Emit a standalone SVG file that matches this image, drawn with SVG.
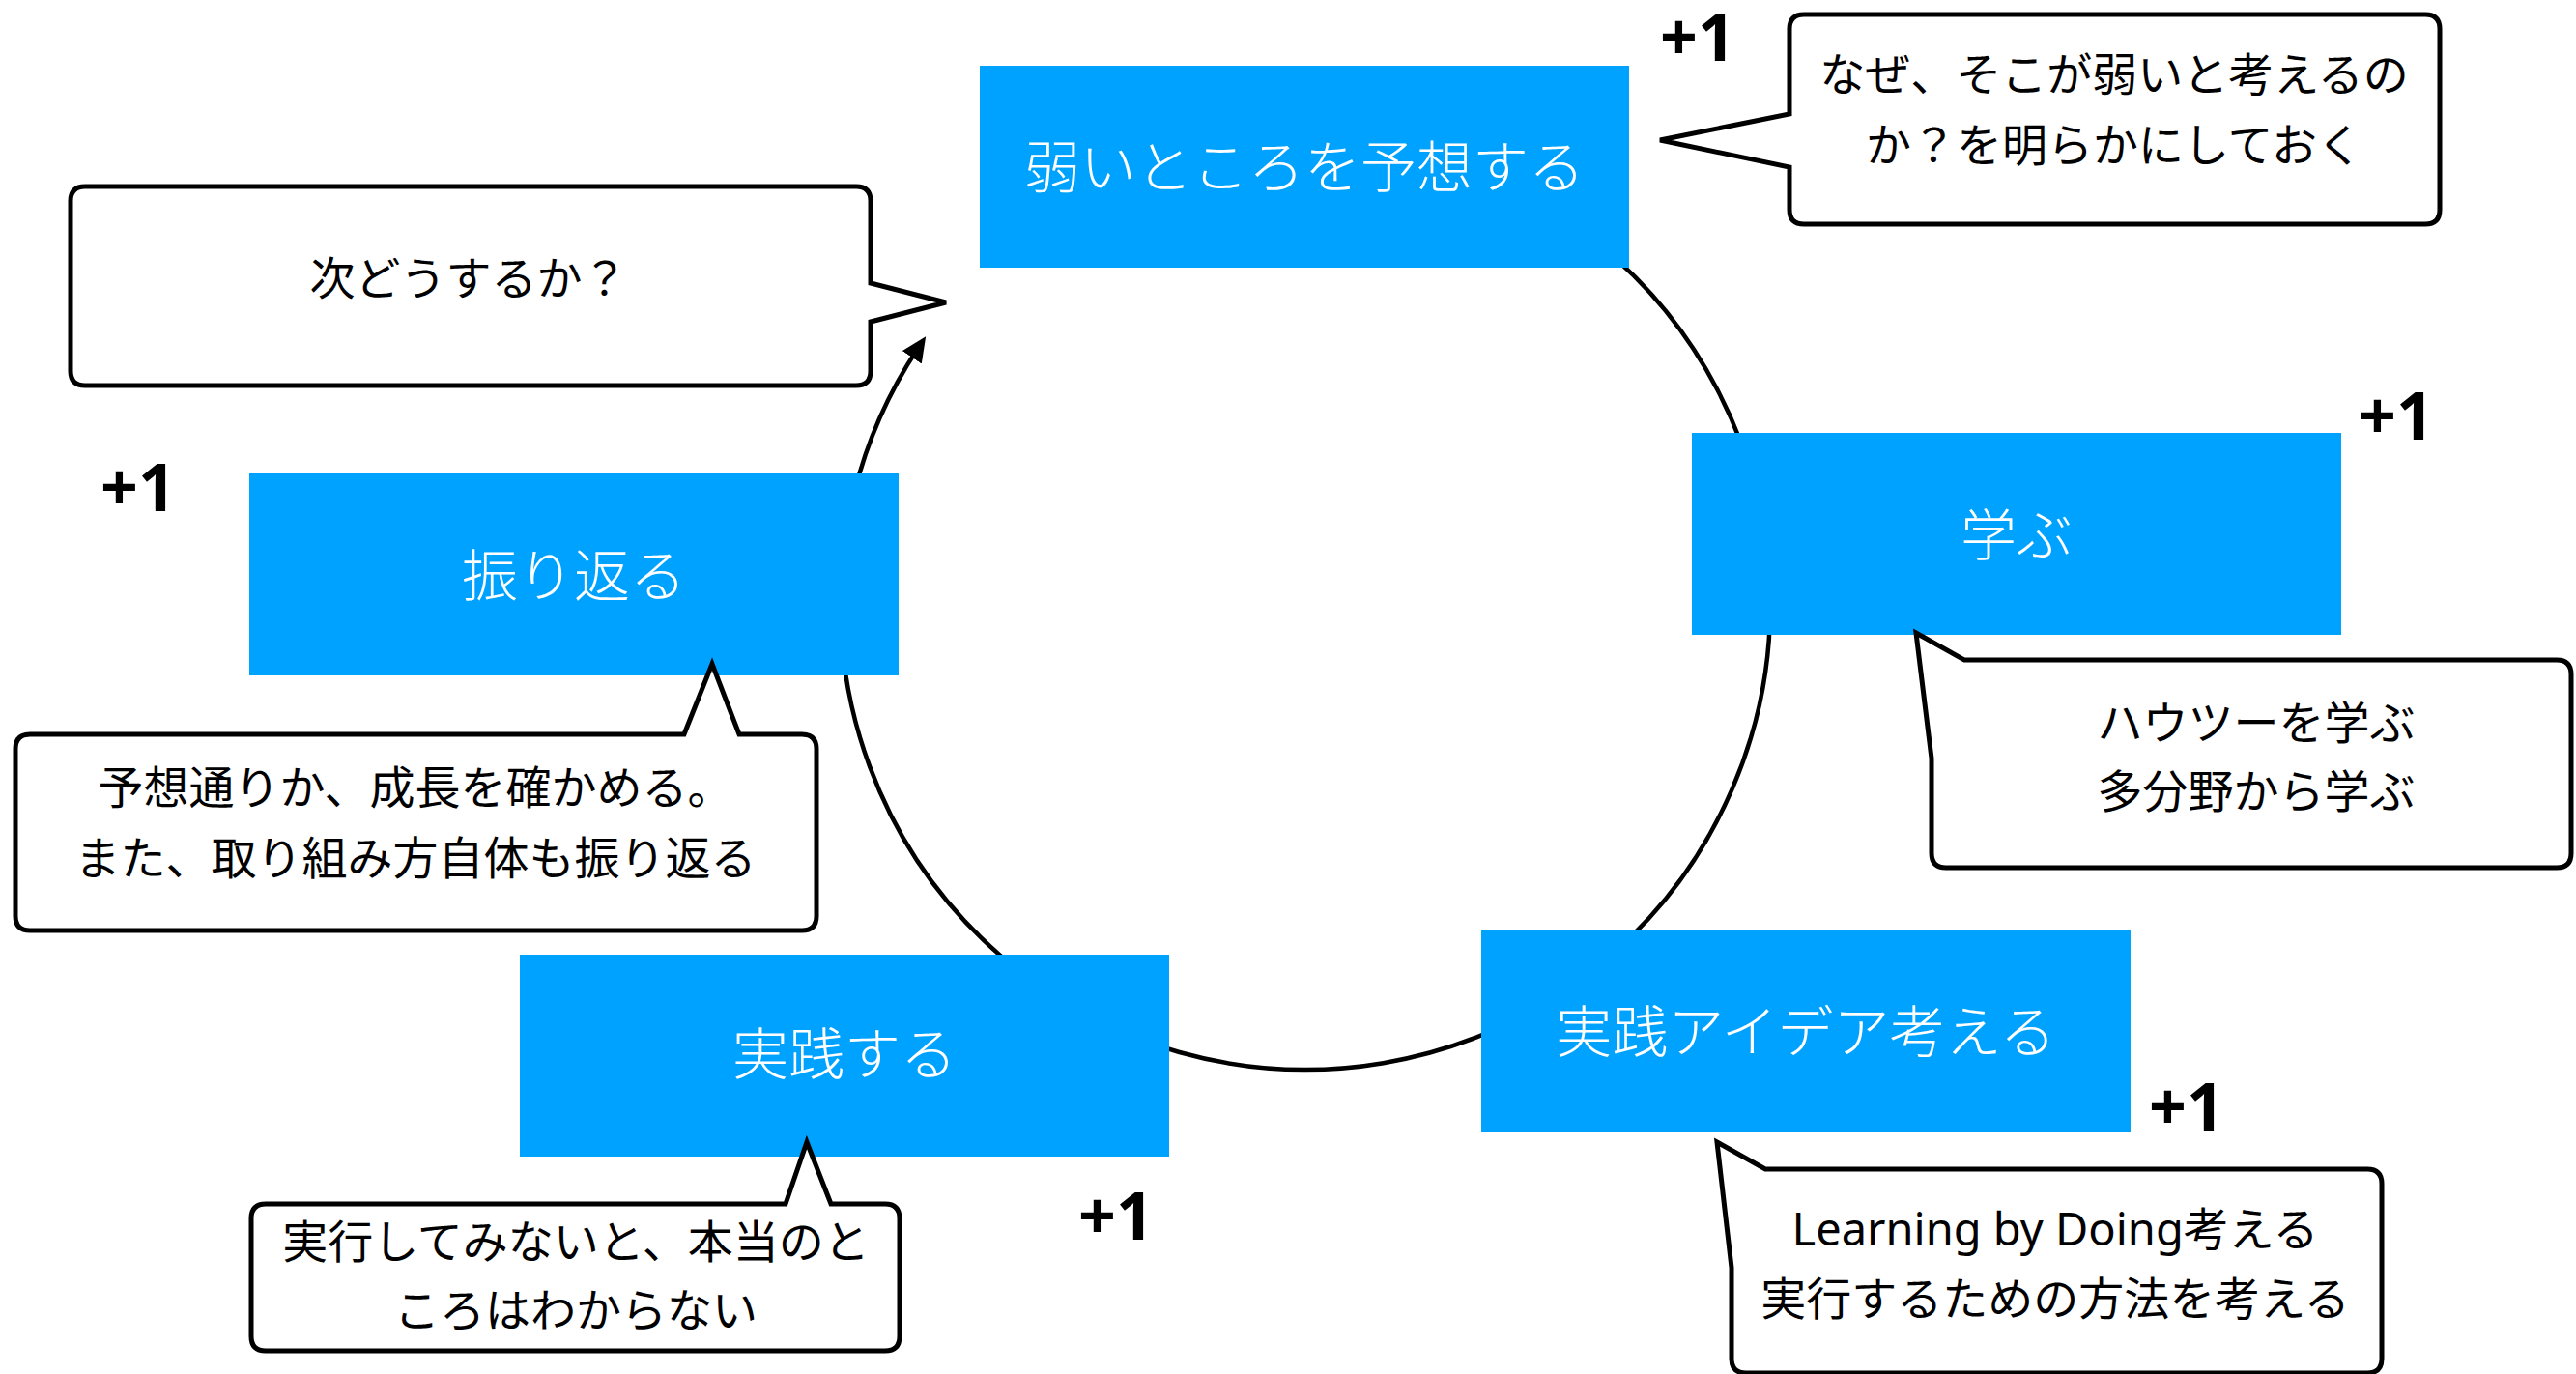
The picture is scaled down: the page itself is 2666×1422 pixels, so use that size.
<svg xmlns="http://www.w3.org/2000/svg" width="2666" height="1422" viewBox="0 0 2666 1422">
<style>
.box{fill:#00A2FF;}
.lbl{font-family:"Noto Sans CJK JP","Noto Sans",sans-serif;font-size:58px;font-weight:300;fill:#ffffff;text-anchor:middle;}
.co{fill:#ffffff;stroke:#000000;stroke-width:5;stroke-linejoin:miter;}
.ct{font-family:"Noto Sans CJK JP","Noto Sans",sans-serif;font-size:47px;font-weight:400;fill:#000000;text-anchor:middle;}
.lat{font-family:"Noto Sans","Noto Sans CJK JP",sans-serif;}
.plus{font-family:"Noto Sans","DejaVu Sans",sans-serif;font-size:68px;font-weight:700;fill:#000000;text-anchor:middle;}
.conn{fill:none;stroke:#000000;stroke-width:4.5;}
</style>
<defs>
<marker id="arrow" markerUnits="userSpaceOnUse" markerWidth="30" markerHeight="26" refX="12" refY="12" orient="auto">
<path d="M0,0 L26,12 L0,24 z" fill="#000000"/>
</marker>
</defs>
<rect width="2666" height="1422" fill="#ffffff"/>
<g id="connectors">
<path class="conn" d="M 1186.5,174 A 481 481 0 1 1 950.4,359.8" marker-end="url(#arrow)"/>
</g>
<g id="node-yosou">
<rect class="box" x="1014" y="68" width="672" height="209"/>
<text class="lbl" x="1350" y="194">弱いところを予想する</text>
</g>
<g id="node-manabu">
<rect class="box" x="1751" y="448" width="672" height="209"/>
<text class="lbl" x="2087" y="575">学ぶ</text>
</g>
<g id="node-idea">
<rect class="box" x="1533" y="963" width="672" height="209"/>
<text class="lbl" x="1869" y="1089">実践アイデア考える</text>
</g>
<g id="node-jissen">
<rect class="box" x="538" y="988" width="672" height="209"/>
<text class="lbl" x="874" y="1112">実践する</text>
</g>
<g id="node-furikaeru">
<rect class="box" x="258" y="490" width="672" height="209"/>
<text class="lbl" x="594" y="617">振り返る</text>
</g>
<g id="callout-next">
<path class="co" d="M 88,193 H 886 Q 901,193 901,208 V 293 L 979,313 L 901,333 V 384 Q 901,399 886,399 H 88 Q 73,399 73,384 V 208 Q 73,193 88,193 Z"/>
<text class="ct" x="485" y="305">次どうするか？</text>
</g>
<g id="callout-naze">
<path class="co" d="M 1867,15 H 2510 Q 2525,15 2525,30 V 217 Q 2525,232 2510,232 H 1867 Q 1852,232 1852,217 V 173 L 1718,145 L 1852,118 V 30 Q 1852,15 1867,15 Z"/>
<text class="ct" x="2188" y="94">なぜ、そこが弱いと考えるの</text>
<text class="ct" x="2188" y="167">か？を明らかにしておく</text>
</g>
<g id="callout-howto">
<path class="co" d="M 1983,655 L 2033,683 H 2646 Q 2661,683 2661,698 V 883 Q 2661,898 2646,898 H 2014 Q 1999,898 1999,883 V 785 Z"/>
<text class="ct" x="2335" y="765">ハウツーを学ぶ</text>
<text class="ct" x="2335" y="836">多分野から学ぶ</text>
</g>
<g id="callout-yosoudoori">
<path class="co" d="M 31,760 H 708 L 737,687 L 765,760 H 830 Q 845,760 845,775 V 948 Q 845,963 830,963 H 31 Q 16,963 16,948 V 775 Q 16,760 31,760 Z"/>
<text class="ct" x="430" y="832">予想通りか、成長を確かめる。</text>
<text class="ct" x="430" y="905">また、取り組み方自体も振り返る</text>
</g>
<g id="callout-jikkou">
<path class="co" d="M 275,1246 H 813 L 835,1182 L 860,1246 H 916 Q 931,1246 931,1261 V 1383 Q 931,1398 916,1398 H 275 Q 260,1398 260,1383 V 1261 Q 260,1246 275,1246 Z"/>
<text class="ct" x="596" y="1302">実行してみないと、本当のと</text>
<text class="ct" x="596" y="1373">ころはわからない</text>
</g>
<g id="callout-learning">
<path class="co" d="M 1777,1182 L 1827,1210 H 2450 Q 2465,1210 2465,1225 V 1406 Q 2465,1421 2450,1421 H 1807 Q 1792,1421 1792,1406 V 1312 Z"/>
<text class="ct" x="2127" y="1289"><tspan class="lat">Learning by Doing</tspan>考える</text>
<text class="ct" x="2127" y="1361">実行するための方法を考える</text>
</g>
<g id="plus-labels">
<text class="plus" x="1757" y="63">+1</text>
<text class="plus" x="2480" y="455">+1</text>
<text class="plus" x="143" y="529">+1</text>
<text class="plus" x="1155" y="1283">+1</text>
<text class="plus" x="2263" y="1170">+1</text>
</g>
</svg>
